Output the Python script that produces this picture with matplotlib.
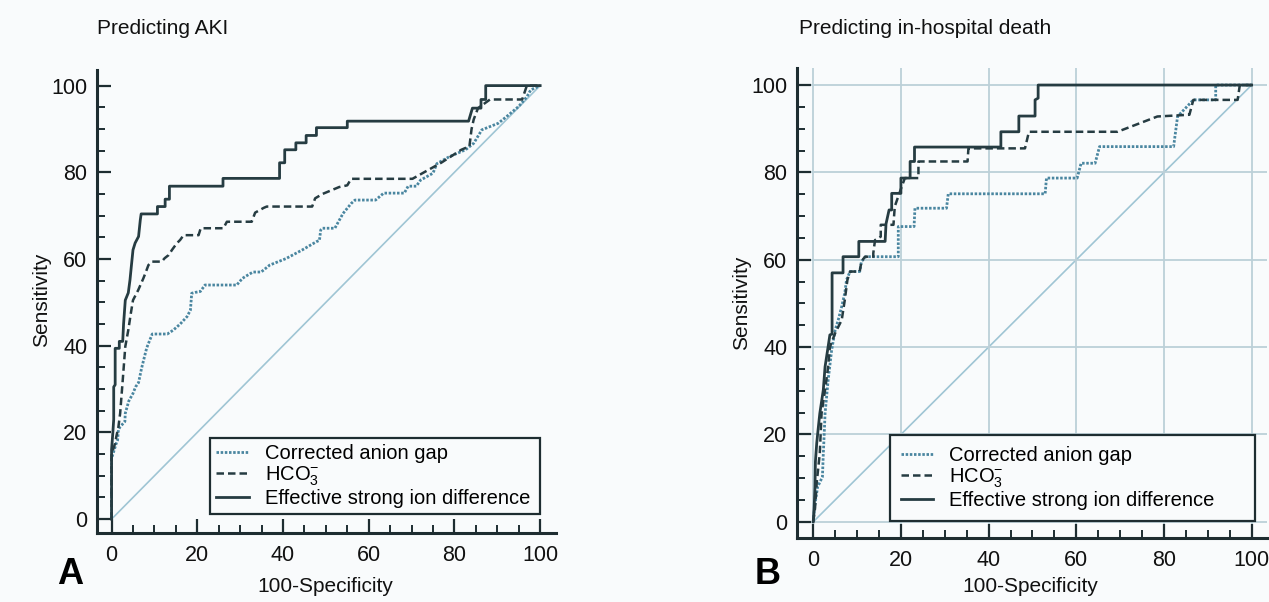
import matplotlib.pyplot as plt
from matplotlib.ticker import MultipleLocator

plt.rcParams['font.family'] = ['Liberation Sans', 'DejaVu Sans']
plt.rcParams['mathtext.fontset'] = 'custom'
plt.rcParams['mathtext.rm'] = 'Liberation Sans'
plt.rcParams['mathtext.it'] = 'Liberation Sans:italic'

# ROC curves: (100-specificity, sensitivity) corner points
# Panel A - predicting AKI
aki_esid_x = [0, 0, 0.3, 0.5, 0.5, 0.84, 0.84, 1.8, 1.8, 2.6, 2.8, 3.2, 3.9, 4.3, 4.6, 5.0, 5.5, 6.3, 6.7, 6.9,
              10.7, 10.7, 12.5, 12.5, 13.5, 13.5, 26.0, 26.0, 39.2, 39.2, 40.4, 40.4, 43.0, 43.0, 45.4, 45.4,
              47.8, 47.8, 55.0, 55.0, 83.3, 84.2, 86.2, 86.2, 87.3, 87.3, 100]
aki_esid_y = [0, 16, 20, 23, 30.5, 31, 39.4, 39.4, 41, 41, 45, 50.5, 52.2, 55.2, 58.2, 62.1, 63.7, 65.2, 69, 70.4,
              70.4, 72.1, 72.1, 73.8, 73.8, 76.8, 76.8, 78.6, 78.6, 82.2, 82.2, 85.2, 85.2, 86.8, 86.8, 88.5,
              88.5, 90.3, 90.3, 91.8, 91.8, 94.8, 94.8, 96.8, 96.8, 100, 100]

aki_hco3_x = [0, 0, 0.84, 1.1, 1.6, 2.0, 2.6, 3.2, 3.9, 4.5, 5.0, 6.2, 7.4, 8.0, 8.6, 9.4, 11.7, 12.4, 13.3, 14.1,
              15.2, 16.0, 16.8, 20.3, 20.8, 26.1, 26.9, 32.7, 33.5, 35.5, 36.2, 46.8, 47.5, 49.2, 53.1, 55.0,
              55.9, 70.2, 74.0, 76.9, 81.6, 83.5, 84.0, 84.5, 85.5, 88.3, 95.8, 96.9, 100]
aki_hco3_y = [0, 15, 17.5, 19, 21.3, 24.4, 32, 39.8, 43.6, 47.5, 50.5, 52.8, 55.5, 57, 58.6, 59.4, 59.4, 60.2, 60.9,
              62.1, 63.6, 64.4, 65.5, 65.5, 67.1, 67.1, 68.6, 68.6, 70.7, 71.8, 72.1, 72.1, 74, 75, 76.6, 77,
              78.5, 78.5, 80.6, 82.2, 85.2, 86, 90, 92.2, 94.8, 96.8, 96.8, 100, 100]

aki_cag_x = [0, 0, 1.1, 1.4, 1.6, 2.0, 3.1, 3.2, 4.0, 5.0, 5.6, 6.3, 7.0, 8.2, 9.0, 9.5, 13.0, 14.4, 16.0, 17.6,
             18.4, 18.7, 19.5, 20.7, 21.8, 29.2, 30.5, 31.1, 33.0, 34.9, 36.9, 40.7, 44.5, 47.8, 48.5, 48.8,
             49.2, 52.1, 54.0, 55.9, 56.8, 61.6, 63.5, 68.3, 69.2, 71.1, 72.1, 75.0, 75.9, 78.8, 82.6, 84.5,
             86.4, 90.2, 92.1, 95.0, 96.9, 97.8, 100]
aki_cag_y = [0, 14, 17.5, 18.2, 20.6, 21.3, 22.5, 24.4, 27.2, 29, 30.5, 31.5, 34.8, 39.5, 41.5, 42.7, 42.7, 43.6,
             45, 46.7, 48.2, 52.1, 52.3, 52.5, 54, 54, 55.5, 55.9, 57, 57, 58.6, 60.1, 62.1, 64, 64.3, 66.7,
             67.1, 67.1, 70.5, 72.8, 73.6, 73.6, 75.2, 75.2, 76.8, 76.8, 78.2, 79.8, 82, 83.6, 85.2, 86.7,
             89.8, 91.3, 92.8, 95.2, 97.4, 99, 100]

# Panel B - predicting in-hospital death
death_esid_x = [0, 0.2, 0.4, 0.5, 0.8, 1.1, 1.5, 2.3, 2.7, 3.4, 3.8, 4.3, 4.3, 6.8, 6.8, 10.4, 10.4, 16.4, 16.6,
                17.3, 17.9, 17.9, 20.0, 20.0, 22.1, 22.1, 23.1, 23.1, 42.8, 42.8, 46.9, 46.9, 50.6, 50.6, 51.3,
                51.3, 100]
death_esid_y = [0, 3, 8, 13.8, 18, 21, 24.8, 30.2, 35.5, 40.1, 42.8, 43, 57, 57, 60.7, 60.7, 64.2, 64.2, 68.2,
                71.4, 71.4, 75.2, 75.2, 78.7, 78.7, 82.5, 82.5, 85.8, 85.8, 89.3, 89.3, 92.9, 92.9, 96.6, 97,
                100, 100]

death_hco3_x = [0, 0.4, 0.8, 1.5, 1.9, 2.7, 3.4, 3.8, 5.0, 6.5, 7.2, 7.8, 8.4, 10.6, 11.0, 11.8, 13.7, 13.7, 14.1,
                15.4, 15.4, 18.3, 18.6, 20.1, 20.9, 24.0, 24.0, 35.2, 35.4, 48.3, 49.2, 69.4, 78.5, 82.2, 85.8,
                86.7, 96.8, 97.3, 100]
death_hco3_y = [0, 3, 9, 15.7, 24.8, 30.2, 35.5, 40, 43.2, 46.2, 50.8, 55.4, 57.3, 57.3, 59.6, 60.7, 60.7, 61.5,
                64.5, 65.3, 68, 68, 72.2, 76.5, 78.7, 78.7, 82.5, 82.5, 85.5, 85.5, 89.3, 89.3, 92.8, 93, 93.2,
                96.6, 96.6, 100, 100]

death_cag_x = [0, 0.4, 1.0, 2.1, 2.3, 2.5, 2.7, 3.4, 4.2, 5.0, 5.7, 6.5, 7.2, 7.6, 8.4, 10.6, 11.0, 12.0, 19.4,
               19.4, 23.0, 23.2, 30.4, 30.8, 52.9, 53.2, 60.2, 61.1, 64.3, 65.3, 82.2, 83.1, 86.7, 91.8, 91.8, 100]
death_cag_y = [0, 4, 8, 10.3, 15.6, 20, 24.8, 32.4, 39.3, 43.9, 46.2, 49.3, 52.4, 55.4, 57.3, 57.3, 59.6, 60.7,
               60.7, 67.6, 67.6, 71.8, 71.8, 75.1, 75.1, 78.7, 78.7, 82.1, 82.1, 85.9, 85.9, 92.8, 96.6, 96.6,
               100, 100]

legend_labels = ['Corrected anion gap', 'HCO$_3^{-}$', 'Effective strong ion difference']

bg = '#f9fbfc'
ink = '#1e2d31'
line_dark = '#263c42'
line_dot = '#4a86a0'
diag_col = '#9fc5d4'
grid_col = '#bcd0d8'

fig = plt.figure(figsize=(12.69, 6.02), dpi=100, facecolor=bg)

ax_a = fig.add_axes([97 / 1269, 1 - 533 / 602, 459 / 1269, 463 / 602], facecolor=bg)
ax_b = fig.add_axes([797 / 1269, 1 - 538 / 602, 470 / 1269, 470 / 602], facecolor=bg)


def draw_panel(ax, cag, hco3, esid, xlim, ylim, grid, legend_box, legend_pad):
    if grid:
        ax.grid(True, which='major', color=grid_col, linewidth=1.3, zorder=0)
    ax.plot([0, 100], [0, 100], color=diag_col, linewidth=1.2, zorder=1)
    ax.plot(cag[0], cag[1], color=line_dot, linewidth=2.0, linestyle=(0, (0.9, 0.6)),
            label=legend_labels[0], zorder=2)
    ax.plot(hco3[0], hco3[1], color=line_dark, linewidth=1.8, linestyle=(0, (3, 1.6)),
            label=legend_labels[1], zorder=3)
    ax.plot(esid[0], esid[1], color=line_dark, linewidth=2.0, label=legend_labels[2], zorder=4)

    ax.set_xlim(*xlim)
    ax.set_ylim(*ylim)
    for side in ['top', 'right']:
        ax.spines[side].set_visible(False)
    for side in ['left', 'bottom']:
        ax.spines[side].set_linewidth(2.2)
        ax.spines[side].set_color(ink)

    ax.xaxis.set_major_locator(MultipleLocator(20))
    ax.yaxis.set_major_locator(MultipleLocator(20))
    ax.xaxis.set_minor_locator(MultipleLocator(5))
    ax.yaxis.set_minor_locator(MultipleLocator(5))
    ax.tick_params(which='major', direction='in', length=10, width=1.6, color=ink,
                   labelsize=15.5, labelcolor='#111111')
    ax.tick_params(which='minor', direction='in', length=5.5, width=1.4, color=ink)
    ax.tick_params(axis='x', which='major', pad=8.5)
    ax.tick_params(axis='y', which='major', pad=7)

    leg = ax.legend(loc='lower left', bbox_to_anchor=legend_box, mode='expand', borderaxespad=0,
                    fontsize=14.5, frameon=True, fancybox=False, framealpha=1,
                    facecolor=bg, edgecolor=ink, handlelength=1.6, handletextpad=0.8,
                    labelspacing=0.05, borderpad=legend_pad)
    leg.get_frame().set_linewidth(1.6)
    leg.set_zorder(6)


draw_panel(ax_a, (aki_cag_x, aki_cag_y), (aki_hco3_x, aki_hco3_y), (aki_esid_x, aki_esid_y),
           (-3.4, 103.7), (-3.2, 103.6), False, (0.246, 0.041, 0.719, 0.17), 0.32)
draw_panel(ax_b, (death_cag_x, death_cag_y), (death_hco3_x, death_hco3_y), (death_esid_x, death_esid_y),
           (-3.7, 103.5), (-3.7, 103.9), True, (0.197, 0.036, 0.777, 0.185), 0.55)


def px(x, y):
    return x / 1269, 1 - y / 602


fig.text(*px(97, 29), 'Predicting AKI', fontsize=15, ha='left', va='center', color='#111111')
fig.text(*px(799, 29), 'Predicting in-hospital death', fontsize=15, ha='left', va='center', color='#111111')
fig.text(*px(42, 300), 'Sensitivity', fontsize=15, rotation=90, ha='center', va='center', color='#111111')
fig.text(*px(742, 303), 'Sensitivity', fontsize=15, rotation=90, ha='center', va='center', color='#111111')
fig.text(*px(325, 586), '100-Specificity', fontsize=15, ha='center', va='center', color='#111111')
fig.text(*px(1030, 586), '100-Specificity', fontsize=15, ha='center', va='center', color='#111111')
fig.text(*px(70, 574), 'A', fontsize=26, fontweight='bold', ha='center', va='center', color='black')
fig.text(*px(768, 575), 'B', fontsize=26, fontweight='bold', ha='center', va='center', color='black')

fig.savefig('out.png', dpi=100, facecolor=bg)
